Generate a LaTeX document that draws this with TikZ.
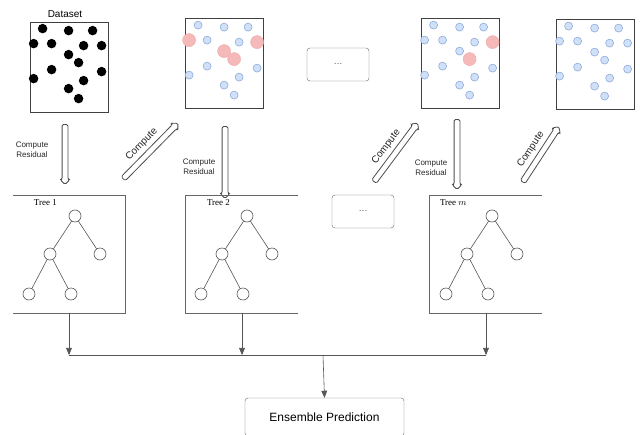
\documentclass[tikz,border=0pt]{standalone}
\usepackage{fontspec}
\setmainfont{Liberation Sans}
\newfontfamily\treefont{Liberation Serif}
\usetikzlibrary{shapes,arrows,positioning}
\definecolor{dotblue}{HTML}{CFE0F7}
\definecolor{dotblueline}{HTML}{8FAADB}
\definecolor{dotred}{HTML}{F6B9B9}
\definecolor{dotredline}{HTML}{F0A8A8}
\definecolor{edgegray}{HTML}{555555}
\tikzstyle{datbox} = [rectangle, draw=black!75, line width=0.8pt, minimum width=78pt, minimum height=90pt, inner sep=0pt]
\tikzstyle{dotbox} = [rectangle, draw=black!60, rounded corners=3pt, minimum width=62pt, minimum height=33pt, font=\fontsize{9}{9}\selectfont, text=black!70]
\tikzstyle{ens} = [rectangle, draw=black!60, rounded corners=3pt, minimum width=159pt, minimum height=38pt, font=\fontsize{12}{12}\selectfont]
\tikzstyle{frame} = [rectangle, minimum width=112pt, minimum height=117pt, inner sep=0pt]
\tikzstyle{frameline} = [draw=black!60, line width=0.8pt]
\tikzstyle{blk} = [circle, fill=black, minimum size=9.5pt, inner sep=0pt]
\tikzstyle{blu} = [circle, fill=dotblue, draw=dotblueline, line width=0.6pt, minimum size=8pt, inner sep=0pt]
\tikzstyle{resid} = [circle, fill=dotred, draw=dotredline, line width=0.4pt, minimum size=13pt, inner sep=0pt]
\tikzstyle{leaf} = [circle, draw=edgegray, fill=white, line width=0.6pt, minimum size=12pt, inner sep=0pt]
\tikzstyle{hollow} = [single arrow, draw=black!70, line width=0.8pt, minimum width=9pt, single arrow head extend=2pt, single arrow head indent=0pt, inner sep=2.5pt, rounded corners=1.5pt]
\tikzstyle{small} = [font=\fontsize{8}{10}\selectfont, align=center, text=black!85]
\tikzstyle{slant} = [font=\fontsize{10}{10}\selectfont, text=black!85, inner sep=1pt, outer sep=2pt]
\tikzstyle{treelbl} = [font=\treefont\fontsize{9}{9}\selectfont, inner sep=0pt]
\tikzstyle{line} = [draw=edgegray, line width=0.6pt, -triangle 45]
% index / x / y / style in box 2 / style in box 3
\newcommand{\dotlist}{1/13/7/blu/blu, 2/39/9/blu/blu, 3/63/9/blu/blu, 4/4/22/resid/blu,
  5/22/22/blu/blu, 6/54/24/blu/blu, 7/72/24/resid/resid, 8/39/33/resid/blu,
  9/49/41/resid/resid, 10/22/48/blu/blu, 11/72/50/blu/blu, 12/4/57/blu/blu,
  13/54/59/blu/blu, 14/39/67/blu/blu, 15/49/77/blu/blu}

\begin{document}
\begin{tikzpicture}[x=1pt, y=-1pt]
    \clip (0,0) rectangle (640,434);
    % Place nodes
    \node [datbox] (d0) at (69,67) {};
    \node [datbox] (d1) at (224.5,63.5) {};
    \node [dotbox] (m1) at (338,64.5) {\dots};
    \node [datbox] (d2) at (460,63.5) {};
    \node [datbox] (d3) at (595,64.5) {};
    \node [font=\fontsize{10}{10}\selectfont] (dlabel) at (65,14) {Dataset};

    \foreach \i/\x/\y/\sa/\sb in \dotlist {
        \node [blk] (a\i) at ([shift={(\x,\y)}]d0.north west) {};
        \node [\sa] (b\i) at ([shift={(\x,\y)}]d1.north west) {};
        \node [\sb] (c\i) at ([shift={(\x,\y)}]d2.north west) {};
        \node [blu] (e\i) at ([shift={(\x,\y)}]d3.north west) {};
    }

    % hollow arrows
    \node [hollow, minimum height=60pt, rotate=-90] (r1) at (65,153) {};
    \node [hollow, minimum height=72pt, rotate=-90] (r2) at (225,161) {};
    \node [hollow, minimum height=70pt, rotate=-90] (r3) at (457,153) {};
    \node [small] (rl1) at (32,150) {Compute\\Residual};
    \node [small] (rl2) at (199,167) {Compute\\Residual};
    \node [small] (rl3) at (431,168) {Compute\\Residual};
    \node [hollow, minimum height=78pt, rotate=45.5] (g1) at (149.5,152) {};
    \node [hollow, minimum height=73pt, rotate=53.3] (g2) at (395,153.5) {};
    \node [hollow, minimum height=66pt, rotate=56.8] (g3) at (540,155.5) {};
    \node [slant, rotate=45.5, anchor=south] (gl1) at (g1.north) {Compute};
    \node [slant, rotate=53.3, anchor=south] (gl2) at (g2.north) {Compute};
    \node [slant, rotate=56.8, anchor=south] (gl3) at (g3.north) {Compute};

    % trees
    \node [frame] (f1) at (69,254.5) {};
    \node [frame] (f2) at (242,254.5) {};
    \node [dotbox] (m2) at (363,211.5) {\dots};
    \node [frame] (fm) at (486,254.5) {};
    \node [treelbl, anchor=north west] (tl1) at ([shift={(21,4)}]f1.north west) {Tree 1};
    \node [treelbl, anchor=north west] (tl2) at ([shift={(21,4)}]f2.north west) {Tree 2};
    \node [treelbl, anchor=north west] (tlm) at ([shift={(10,4)}]fm.north west) {Tree $m$};
    \draw [frameline] (f1.north west) -- (f1.north east) -- (f1.south east) -- (f1.south west);
    \draw [frameline] (f2.north east) -- (f2.north west) -- (f2.south west) -- (f2.south east);
    \draw [frameline] (fm.north east) -- (fm.north west) -- (fm.south west) -- (fm.south east);

    \foreach \t/\rx in {t1/75, t2/247, tm/492} {
        \node [leaf] (\t r) at (\rx,216) {};
        \node [leaf] (\t a) at ([shift={(-25,38)}]\t r) {};
        \node [leaf] (\t b) at ([shift={(25,38)}]\t r) {};
        \node [leaf] (\t c) at ([shift={(-46,78)}]\t r) {};
        \node [leaf] (\t d) at ([shift={(-4,78)}]\t r) {};
        \draw [edgegray, line width=0.6pt] (\t r) -- (\t a);
        \draw [edgegray, line width=0.6pt] (\t r) -- (\t b);
        \draw [edgegray, line width=0.6pt] (\t a) -- (\t c);
        \draw [edgegray, line width=0.6pt] (\t a) -- (\t d);
    }

    \node [ens] (ens) at (324.5,417) {Ensemble Prediction};
    \coordinate (bus) at (323,355);

    % Draw edges
    \path [line] (f1.south) -- (f1.south |- bus);
    \path [line] (f2.south) -- (f2.south |- bus);
    \path [line] (fm.south) -- (fm.south |- bus);
    \draw [edgegray, line width=0.6pt] (f1.south |- bus) -- (fm.south |- bus);
    \path [line] (bus) -- (ens.north);
\end{tikzpicture}
\end{document}
